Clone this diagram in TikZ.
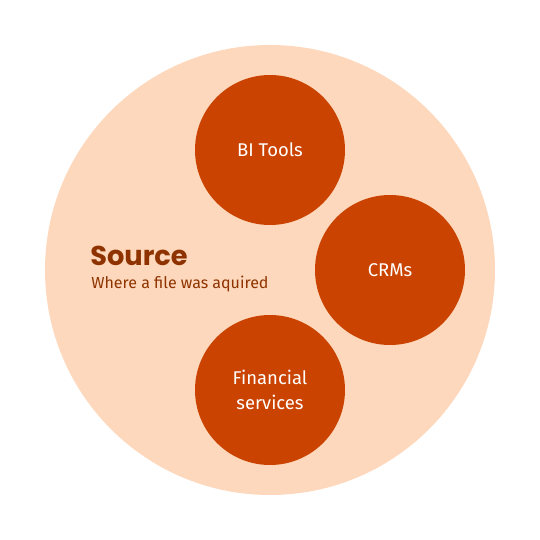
\documentclass[tikz,border=0pt]{standalone}
\usepackage{fontspec}
\setmainfont{Fira Sans}
\newfontfamily\headfont{Poppins}
\usetikzlibrary{positioning}
\definecolor{peachlight}{HTML}{FDD8BC}
\definecolor{rustdark}{HTML}{CA4300}
\definecolor{browntext}{HTML}{8E3300}

\begin{document}
\begin{tikzpicture}[
  outer/.style={circle, fill=peachlight, minimum size=9cm, inner sep=0pt},
  item/.style={circle, fill=rustdark, minimum size=3cm, inner sep=0pt,
               align=center, text=white, font=\fontsize{10.5}{14}\selectfont},
  title/.style={anchor=base west, text=browntext, inner sep=0pt,
                font=\headfont\bfseries\fontsize{15.5}{18}\selectfont},
  caption/.style={anchor=base west, text=browntext, inner sep=0pt,
                  font=\fontsize{9.1}{11}\selectfont},
]
\useasboundingbox (-5.4,-5.4) rectangle (5.4,5.4);

%% Source area
\node[outer] (source) at (0,0) {};

%% Kinds of source
\node[item] (bi)  at (0,2.4)  {BI Tools};
\node[item] (crm) at (2.4,0)  {CRMs};
\node[item] (fin) at (0,-2.4) {Financial\\services};

%% Label
\node[title] (srctitle) at (-3.6,0.08) {Source};
\node[caption] (srccap) at (-3.58,-0.36) {Where a file was aquired};
\end{tikzpicture}
\end{document}
